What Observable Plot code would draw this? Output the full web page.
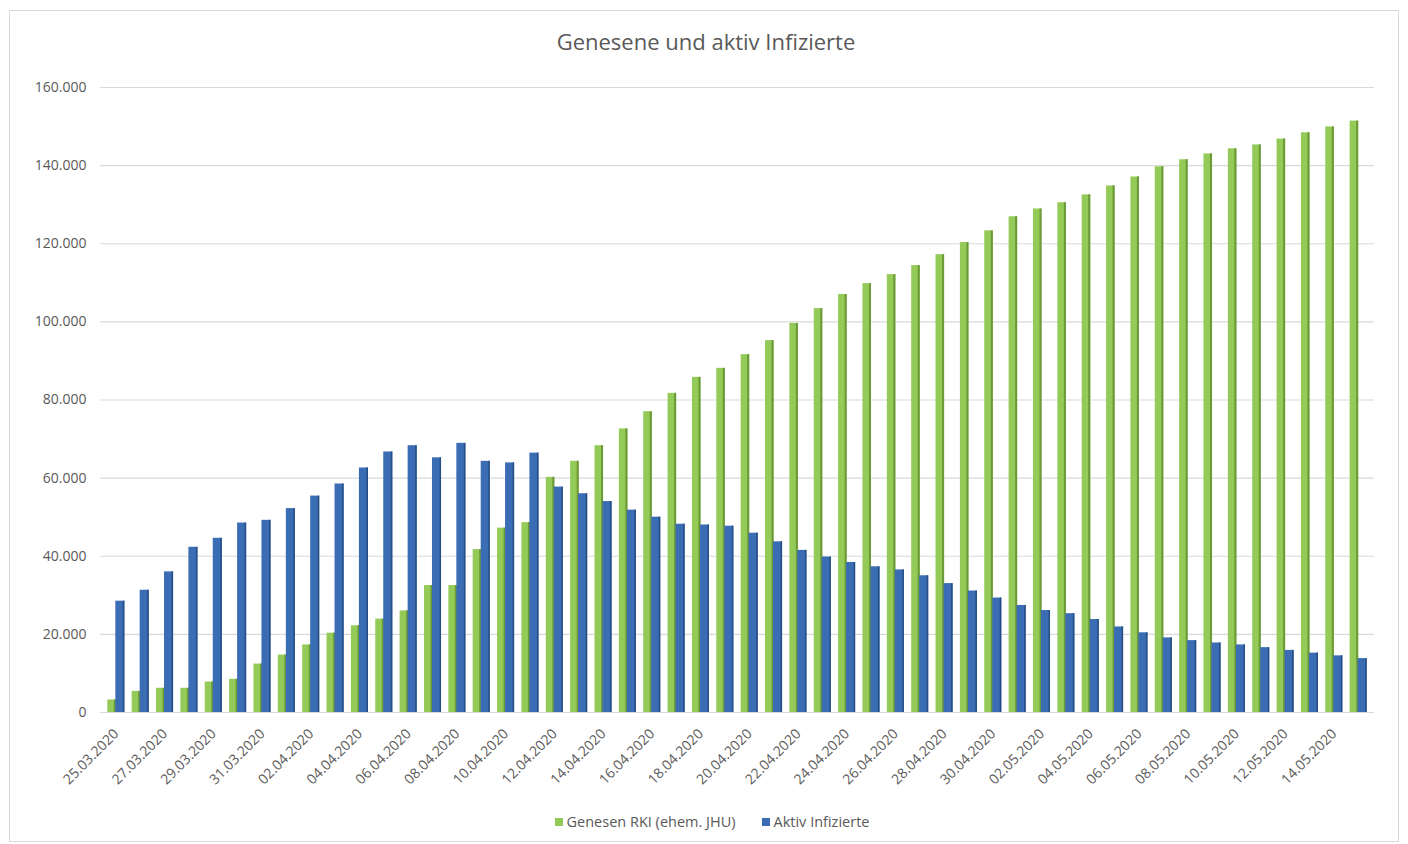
<!DOCTYPE html>
<html>
<head>
<meta charset="utf-8">
<script src="https://cdn.jsdelivr.net/npm/d3@7"></script>
<script src="https://cdn.jsdelivr.net/npm/@observablehq/plot@0.6"></script>
<style>
  html, body { margin: 0; padding: 0; background: #fff; }
  #frame { position: relative; width: 1408px; height: 844px; overflow: hidden; font-family: "Open Sans", sans-serif; }
  #border { position: absolute; left: 9px; top: 10px; width: 1390px; height: 832px; border: 1px solid #d9d9d9; box-sizing: border-box; }
  #title { position: absolute; left: 0; width: 1412px; top: 26px; text-align: center; font-size: 22px; color: #595959; }
  #chart { position: absolute; left: 0; top: 60px; }
  #legend { position: absolute; top: 812px; left: 6px; width: 1412px; text-align: center; font-size: 14.5px; color: #595959; }
  #legend span.item { margin: 0 13px; }
  #legend i { display: inline-block; width: 8px; height: 8px; margin-right: 4px; vertical-align: 1px; }
</style>
</head>
<body>
<div id="frame">
  <div id="border"></div>
  <div id="title">Genesene und aktiv Infizierte</div>
  <div id="chart"></div>
  <div id="legend"></div>
</div>
<script>
const dates = [
  "25.03.2020","26.03.2020","27.03.2020","28.03.2020","29.03.2020","30.03.2020","31.03.2020",
  "01.04.2020","02.04.2020","03.04.2020","04.04.2020","05.04.2020","06.04.2020","07.04.2020",
  "08.04.2020","09.04.2020","10.04.2020","11.04.2020","12.04.2020","13.04.2020","14.04.2020",
  "15.04.2020","16.04.2020","17.04.2020","18.04.2020","19.04.2020","20.04.2020","21.04.2020",
  "22.04.2020","23.04.2020","24.04.2020","25.04.2020","26.04.2020","27.04.2020","28.04.2020",
  "29.04.2020","30.04.2020","01.05.2020","02.05.2020","03.05.2020","04.05.2020","05.05.2020",
  "06.05.2020","07.05.2020","08.05.2020","09.05.2020","10.05.2020","11.05.2020","12.05.2020",
  "13.05.2020","14.05.2020","15.05.2020"
];
const genesen = [
  3200, 5400, 6200, 6200, 7800, 8500, 12400,
  14700, 17300, 20300, 22200, 23900, 26000, 32500,
  32500, 41700, 47200, 48600, 60200, 64300, 68300,
  72600, 77000, 81700, 85800, 88100, 91600, 95200,
  99600, 103400, 107000, 109800, 112100, 114400, 117200,
  120300, 123300, 126900, 128900, 130500, 132500, 134800,
  137100, 139700, 141500, 143000, 144300, 145300, 146800,
  148400, 149900, 151400
];
const aktiv = [
  28500, 31300, 36000, 42300, 44600, 48500, 49200,
  52200, 55400, 58500, 62600, 66700, 68300, 65200,
  68900, 64300, 63900, 66400, 57700, 56000, 54000,
  51800, 50000, 48200, 48000, 47700, 45900, 43700,
  41500, 39800, 38400, 37300, 36500, 35000, 33000,
  31100, 29300, 27400, 26100, 25300, 23800, 21900,
  20400, 19100, 18400, 17800, 17300, 16600, 15900,
  15200, 14500, 13800
];
const yTicks = [0, 20000, 40000, 60000, 80000, 100000, 120000, 140000, 160000];
const seriesNames = ["Genesen RKI (ehem. JHU)", "Aktiv Infizierte"];
const seriesColors = ["#94cb58", "#3b6db5"];
const seriesEdges = ["#6c9a38", "#274f86"];

const rows = dates.map((d, i) => ({date: d, genesen: genesen[i], aktiv: aktiv[i]}));
const fmt = d3.formatLocale({decimal: ",", thousands: ".", grouping: [3], currency: ["", "€"]}).format(",");
const half = 8.5;

const chart = Plot.plot({
  width: 1408,
  height: 752,
  marginLeft: 100,
  marginRight: 34,
  marginTop: 27,
  marginBottom: 100,
  style: {fontFamily: "Open Sans, sans-serif", fontSize: "14px", color: "#595959", background: "transparent"},
  x: {type: "band", domain: dates, padding: 0.3, round: false},
  y: {domain: [0, 160000]},
  marks: [
    Plot.ruleY(yTicks, {stroke: "#d9d9d9", strokeWidth: 1.2}),
    Plot.barY(rows, {x: "date", y: "genesen", fill: seriesColors[0], insetRight: half}),
    Plot.barY(rows, {x: "date", y: "genesen", fill: seriesEdges[0], insetRight: half, insetLeft: 6.5}),
    Plot.barY(rows, {x: "date", y: "aktiv", fill: seriesColors[1], insetLeft: half - 0.5}),
    Plot.barY(rows, {x: "date", y: "aktiv", fill: seriesEdges[1], insetLeft: 15.5}),
    Plot.axisY({ticks: yTicks, tickFormat: fmt, tickSize: 0, tickPadding: 14, fontSize: 14, fill: "#595959"}),
    Plot.axisX({ticks: dates.filter((d, i) => i % 2 === 0), tickSize: 0, tickPadding: 19, tickRotate: -45, fontSize: 14, fill: "#595959", label: null})
  ]
});
document.getElementById("chart").appendChild(chart);

const legend = document.getElementById("legend");
seriesNames.forEach((name, i) => {
  const s = document.createElement("span");
  s.className = "item";
  s.innerHTML = `<i style="background:${seriesColors[i]}"></i>${name}`;
  legend.appendChild(s);
});
</script>
</body>
</html>
